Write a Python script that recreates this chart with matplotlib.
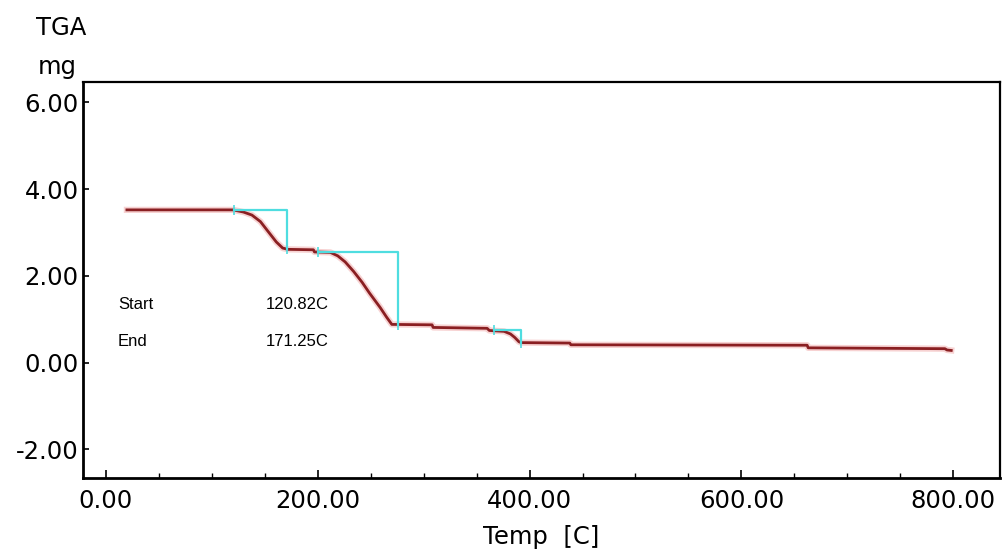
import matplotlib
matplotlib.use("Agg")
import matplotlib.pyplot as plt
from matplotlib.ticker import MultipleLocator, FixedLocator, FormatStrFormatter

# TGA trace: temperature (C) and sample mass (mg)
temp = [20, 120, 124, 130, 138, 146, 153, 161, 167, 172, 196, 197, 212, 219,
        226, 234, 242, 249, 259, 265, 270, 308, 309, 360, 362, 376, 382, 386,
        390, 392, 438, 439, 662, 663, 792, 794, 798]
mass = [3.52, 3.52, 3.50, 3.47, 3.40, 3.25, 3.03, 2.78, 2.64, 2.61, 2.60, 2.55,
        2.54, 2.46, 2.32, 2.10, 1.85, 1.60, 1.27, 1.05, 0.88, 0.87, 0.81, 0.79,
        0.74, 0.72, 0.66, 0.58, 0.48, 0.46, 0.45, 0.41, 0.40, 0.34, 0.32, 0.29,
        0.28]

# Step analysis brackets (onset / endset temperatures and mass levels)
step_start = [120.82, 200.0, 366.0]
step_end = [171.25, 276.0, 392.0]
step_top = [3.52, 2.55, 0.75]
step_bottom = [2.62, 0.87, 0.46]

x_ticks = [0, 200, 400, 600, 800]
y_ticks = [-2, 0, 2, 4, 6]

fig = plt.figure(figsize=(10.04, 5.54), dpi=100)
ax = fig.add_axes([0.0824, 0.138, 0.9136, 0.7134])

axis_font = "DejaVu Sans"
note_font = "Liberation Sans"
big = 17.5
small = 12

ax.plot(temp, mass, color="#f7d2d2", lw=4.5, zorder=2)
ax.plot(temp, mass, color="#8a1f22", lw=2.0, zorder=3)

for s, e, t, b in zip(step_start, step_end, step_top, step_bottom):
    ax.plot([s, e, e], [t, t, b], color="#4fdde0", lw=1.6, zorder=4)
    ax.plot([s, e], [t, b], ls="none", marker="|", ms=7, mew=1.2,
            color="#4fdde0", zorder=4)

ax.text(11.6, 1.35, "Start", fontsize=small, family=note_font,
        va="center", ha="left")
ax.text(11.6, 0.49, "End", fontsize=small, family=note_font,
        va="center", ha="left")
ax.text(151, 1.35, f"{step_start[0]:.2f}C", fontsize=small, family=note_font,
        va="center", ha="left")
ax.text(151, 0.49, f"{step_end[0]:.2f}C", fontsize=small, family=note_font,
        va="center", ha="left")

ax.set_xlim(-21.7, 844)
ax.set_ylim(-2.65, 6.46)

ax.xaxis.set_major_locator(FixedLocator(x_ticks))
ax.xaxis.set_minor_locator(MultipleLocator(50))
ax.yaxis.set_major_locator(FixedLocator(y_ticks))
ax.xaxis.set_major_formatter(FormatStrFormatter("%.2f"))
ax.yaxis.set_major_formatter(FormatStrFormatter("%.2f"))

ax.tick_params(axis="x", which="major", direction="in", length=6, width=1.2,
               pad=8, labelsize=big)
ax.tick_params(axis="x", which="minor", direction="in", length=3.5, width=1.0)
ax.tick_params(axis="y", which="major", direction="in", length=4, width=1.2,
               pad=3, labelsize=big)
for lab in ax.get_xticklabels() + ax.get_yticklabels():
    lab.set_family(axis_font)

for sp in ax.spines.values():
    sp.set_linewidth(1.6)
    sp.set_color("black")
ax.spines["left"].set_linewidth(2.0)
ax.spines["bottom"].set_linewidth(2.0)

fig.text(0.5388, 0.031, "Temp  [C]", fontsize=big, family=axis_font,
         ha="center", va="center")
fig.text(0.061, 1 - 28 / 554, "TGA", fontsize=big, family=axis_font,
         ha="center", va="center")
fig.text(0.057, 1 - 67 / 554, "mg", fontsize=big, family=axis_font,
         ha="center", va="center")

fig.savefig("out.png", dpi=100)
